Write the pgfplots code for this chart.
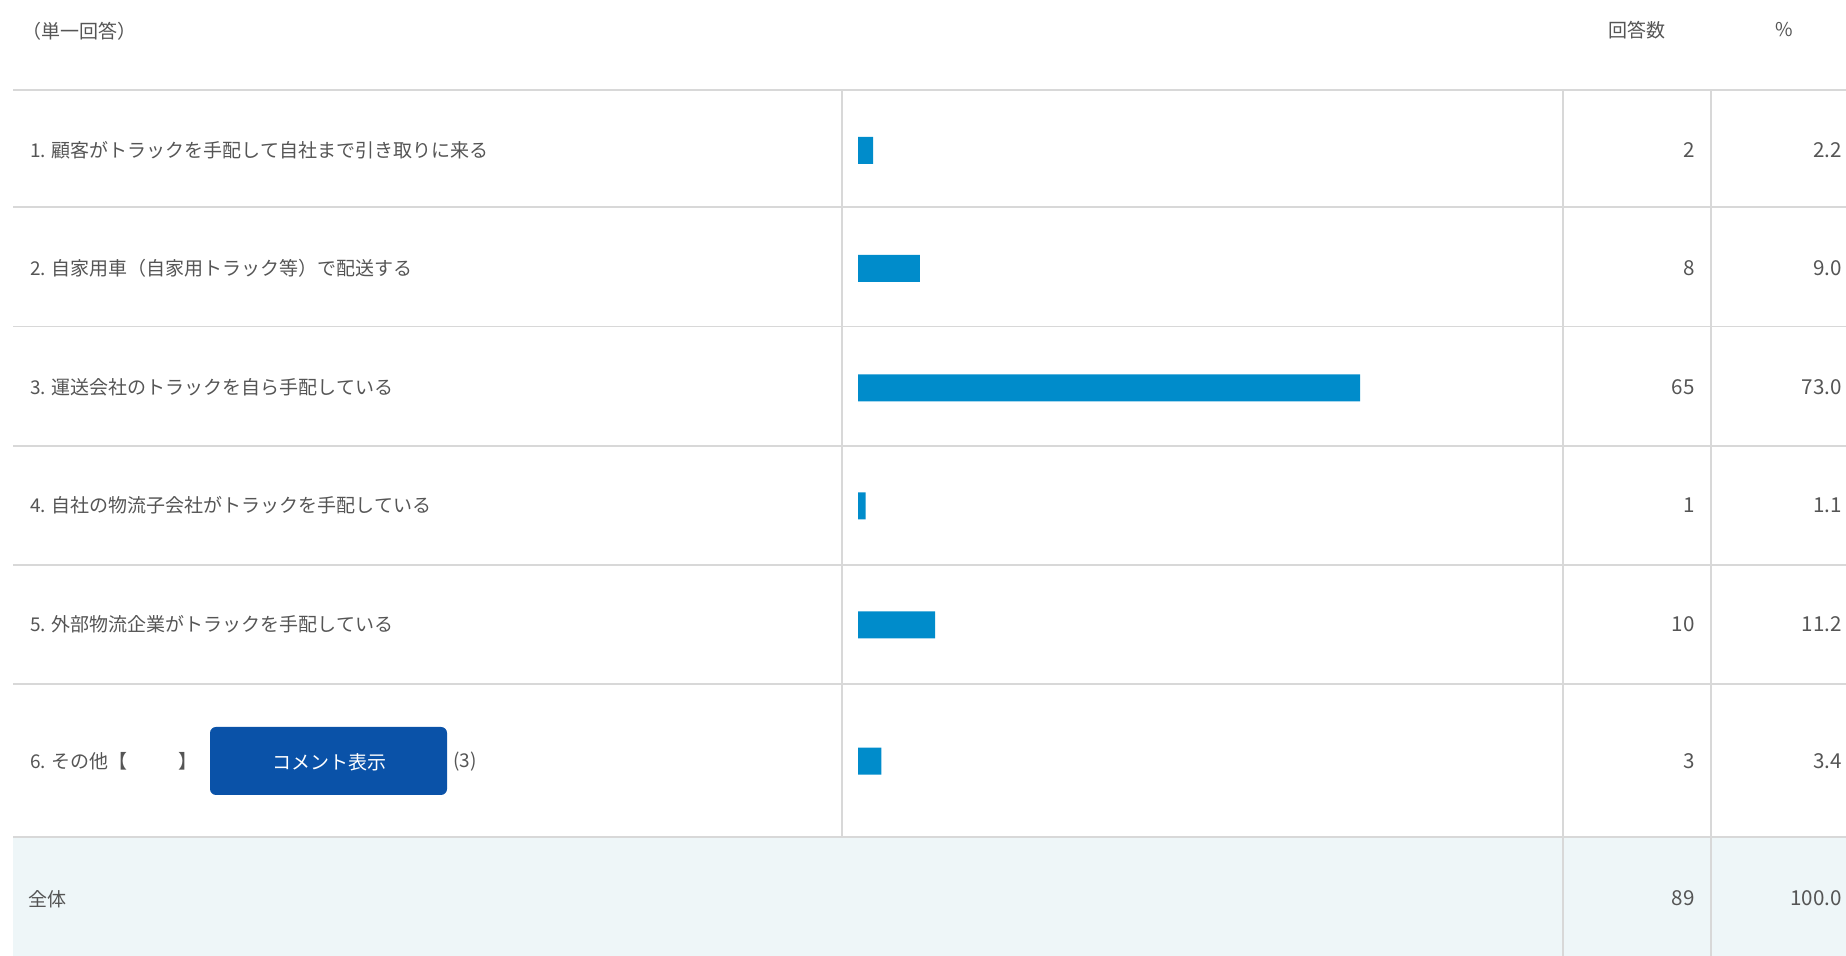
\documentclass[border=0pt]{standalone}
\usepackage{fontspec}
\setmainfont{Noto Sans CJK JP}
\usepackage{pgfplots}
\pgfplotsset{compat=1.18}
\usepackage{pgfplotstable}
\definecolor{barblue}{HTML}{008CCB}
\definecolor{btnblue}{HTML}{0A52A8}
\definecolor{gridgray}{HTML}{D8D8D8}
\definecolor{txtgray}{HTML}{555555}
\definecolor{totalbg}{HTML}{EEF6F8}

% y = row centre (pixels from the top), pct = share, count = answers
\pgfplotstableread{
y     pct   count
150.5 2.2   2
268.5 9.0   8
388   73.0  65
506   1.1   1
625   11.2  10
761   3.4   3
}\datatable

\begin{document}
\begin{tikzpicture}
\fontsize{9.5pt}{11pt}\selectfont
\begin{scope}[x=0.5pt,y=-0.5pt,shift={(0pt,478pt)},
  every node/.style={inner sep=0pt,text=txtgray}]
  % total row background
  \fill[totalbg] (13,837) rectangle (1846,956);
  % horizontal rules
  \foreach \yy in {90,207,326.5,446,565,684,837}
    \draw[gridgray,line width=0.9pt] (13,\yy) -- (1846,\yy);
  % vertical rules
  \draw[gridgray,line width=0.9pt] (842,90) -- (842,837);
  \draw[gridgray,line width=0.9pt] (1563,90) -- (1563,956);
  \draw[gridgray,line width=0.9pt] (1711,90) -- (1711,956);
  % header
  \node[anchor=west] at (22,31) {（単一回答）};
  \node at (1637,30) {回答数};
  \node at (1784,30) {\%};
  % row labels
  \node[anchor=west] at (30,150) {1. 顧客がトラックを手配して自社まで引き取りに来る};
  \node[anchor=west] at (30,268) {2. 自家用車（自家用トラック等）で配送する};
  \node[anchor=west] at (30,387) {3. 運送会社のトラックを自ら手配している};
  \node[anchor=west] at (30,505) {4. 自社の物流子会社がトラックを手配している};
  \node[anchor=west] at (30,624) {5. 外部物流企業がトラックを手配している};
  \node[anchor=west] at (30,761) {6. その他【};
  \node[anchor=west] at (178,761) {】};
  \fill[btnblue,rounded corners=3pt] (210,727) rectangle (447,795);
  \node[text=white] at (329,762) {コメント表示};
  \node[anchor=west] at (453,762) {(3)};
  \node[anchor=west] at (28,899) {全体};
  % counts and percentages
  \foreach \yy/\cc/\pp in {150/2/2.2,268/8/9.0,387/65/73.0,505/1/1.1,624/10/11.2,761/3/3.4,898/89/100.0}{
    \node[anchor=east,font=\fontsize{10.3pt}{12pt}\selectfont] at (1695,\yy) {\cc};
    \node[anchor=east,font=\fontsize{10.3pt}{12pt}\selectfont] at (1842,\yy) {\pp};
  }
\end{scope}
\begin{axis}[at={(0pt,0pt)},anchor=south west,
  width=923pt,height=478pt,scale only axis,hide axis,
  xmin=-124.76,xmax=143.67,ymin=0,ymax=956,y dir=reverse,clip=false]
\addplot[xbar,bar width=13.5pt,bar shift=0pt,fill=barblue,draw=none]
  table[x=pct,y=y]{\datatable};
\end{axis}
\pgfresetboundingbox
\path (0pt,0pt) rectangle (923pt,478pt);
\end{tikzpicture}
\end{document}
